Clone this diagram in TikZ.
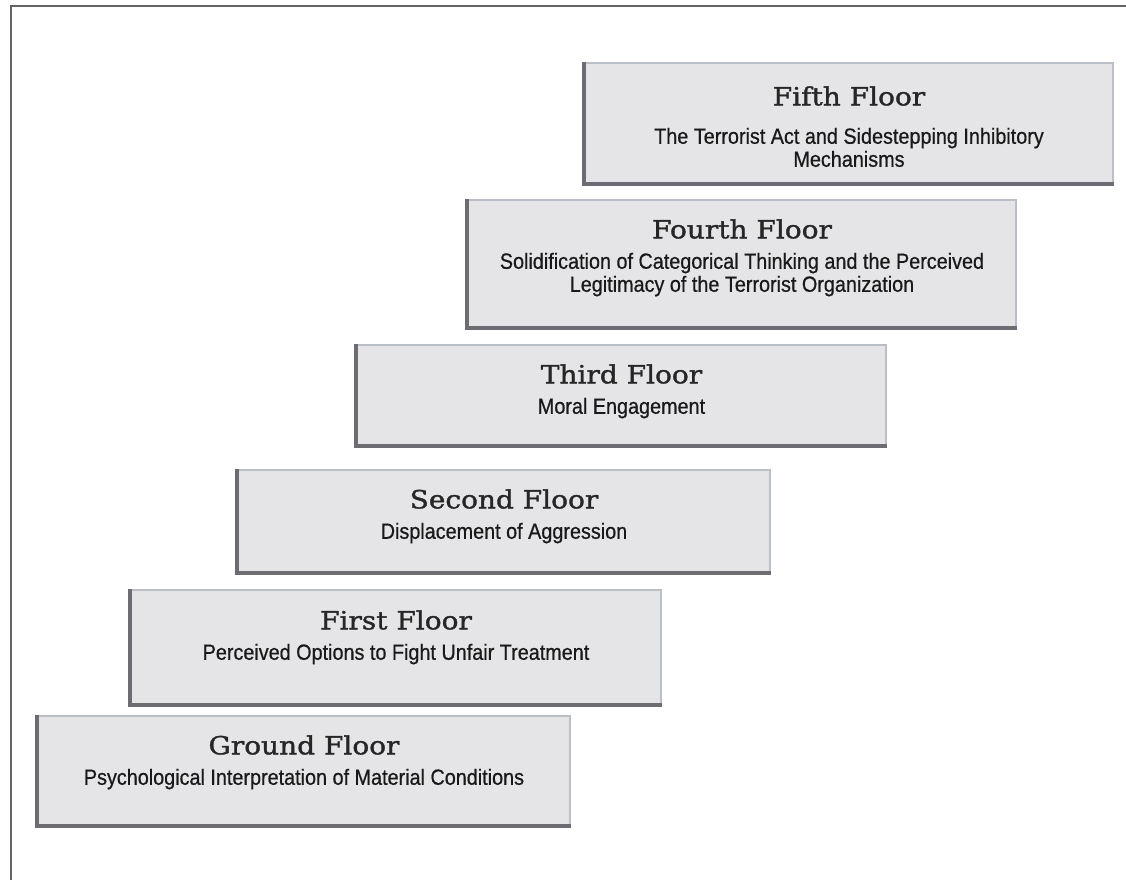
\documentclass[tikz,border=0pt]{standalone}
\usepackage{fontspec}
\usetikzlibrary{positioning}
\setmainfont[FakeStretch=0.9, FakeBold=0.6]{Liberation Sans}
\newfontfamily\titlefont[FakeStretch=1.12, FakeBold=1.4]{DejaVu Serif}
\definecolor{boxfill}{RGB}{229,229,232}
\definecolor{boxedge}{RGB}{186,190,198}
\definecolor{boxshade}{RGB}{108,108,114}
\definecolor{framegray}{RGB}{100,100,100}
\tikzset{
	floorbox/.style={draw=boxedge, fill=boxfill, line width=0.6pt, align=center, inner sep=0pt},
	shadeline/.style={draw=boxshade, line width=2pt},
	floortitle/.style={font=\titlefont\fontsize{12.5}{15}\selectfont, text=black!85},
	floorsub/.style={font=\fontsize{11}{11.5}\selectfont, text=black!90, align=center}
}
\begin{document}
\begin{tikzpicture}[x=0.5pt, y=-0.5pt]
	\useasboundingbox[fill=white] (0, 0) rectangle (1126, 880);
	\draw[framegray, line width=1.2pt] (11, 880) -- (11, 6) -- (1126, 6);

	\draw node[floorbox, minimum width=264pt, minimum height=60pt] at (849, 123) (fifth) {};
	\draw node[floorbox, minimum width=274pt, minimum height=63.5pt] at (742, 263.5) (fourth) {};
	\draw node[floorbox, minimum width=264.5pt, minimum height=50pt] at (621.5, 395) (third) {};
	\draw node[floorbox, minimum width=266pt, minimum height=51pt] at (504, 521) (second) {};
	\draw node[floorbox, minimum width=265pt, minimum height=57pt] at (396, 647) (first) {};
	\draw node[floorbox, minimum width=266pt, minimum height=54.5pt] at (304, 770.5) (ground) {};

	\foreach \n in {fifth, fourth, third, second, first, ground}
		\draw[shadeline] (\n.north west) -- (\n.south west) -- (\n.south east);

	\draw node[floortitle] at (849, 96) (fifthtitle) {Fifth Floor};
	\draw node[floorsub, below=4pt of fifthtitle] (fifthsub) {The Terrorist Act and Sidestepping Inhibitory\\Mechanisms};
	\draw node[floortitle] at (742, 229) (fourthtitle) {Fourth Floor};
	\draw node[floorsub, below=0pt of fourthtitle] (fourthsub) {Solidification of Categorical Thinking and the Perceived\\Legitimacy of the Terrorist Organization};
	\draw node[floortitle] at (621.5, 374) (thirdtitle) {Third Floor};
	\draw node[floorsub, below=0pt of thirdtitle] (thirdsub) {Moral Engagement};
	\draw node[floortitle] at (504, 499) (secondtitle) {Second Floor};
	\draw node[floorsub, below=0pt of secondtitle] (secondsub) {Displacement of Aggression};
	\draw node[floortitle] at (396, 620) (firsttitle) {First Floor};
	\draw node[floorsub, below=0pt of firsttitle] (firstsub) {Perceived Options to Fight Unfair Treatment};
	\draw node[floortitle] at (304, 745) (groundtitle) {Ground Floor};
	\draw node[floorsub, below=0pt of groundtitle] (groundsub) {Psychological Interpretation of Material Conditions};
\end{tikzpicture}
\end{document}
